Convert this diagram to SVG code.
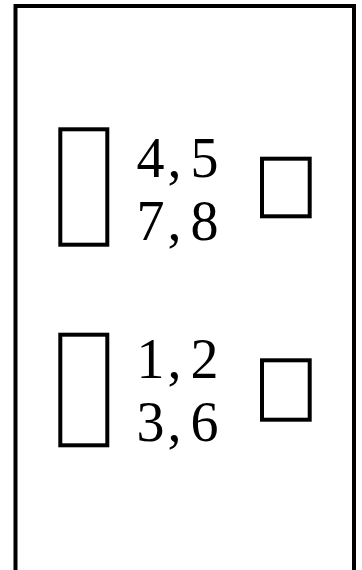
<svg xmlns="http://www.w3.org/2000/svg" width="362" height="570" viewBox="0 0 362 570">
<style>
.frame{fill:none;stroke:#000;stroke-width:4}
.box{fill:#fff;stroke:#000;stroke-width:4}
.lbl{font-family:"Liberation Serif","Times New Roman",serif;font-size:56px;fill:#000}
</style>
<rect width="362" height="570" fill="#fff"/>
<g id="frame">
<path class="frame" d="M15.5,580 V6 H354 V580"/>
</g>
<g id="upper-left"><rect class="box" x="60.3" y="129.3" width="47" height="115.4"/></g>
<g id="upper-label"><text class="lbl" x="136.5 167.5 177 190.5" y="176.7">4, 5</text><text class="lbl" x="136.5 167.5 177 190.5" y="239.5">7, 8</text></g>
<g id="upper-right"><rect class="box" x="262" y="158.7" width="47.7" height="57.6"/></g>
<g id="lower-left"><rect class="box" x="60.3" y="334.7" width="47" height="110.6"/></g>
<g id="lower-label"><text class="lbl" x="136.5 167.5 177 190.5" y="377.7">1, 2</text><text class="lbl" x="136.5 167.5 177 190.5" y="441.2">3, 6</text></g>
<g id="lower-right"><rect class="box" x="262" y="360.3" width="47.7" height="59.4"/></g>
<g id="connectors"></g>
</svg>
